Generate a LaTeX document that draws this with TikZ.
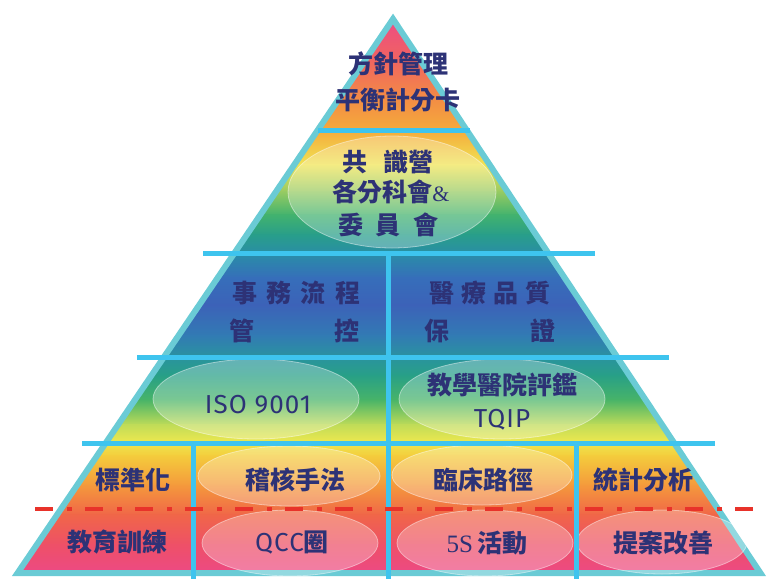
\documentclass[tikz,border=0pt]{standalone}
\usepackage{fontspec}
\newfontfamily\cjk{Noto Sans CJK TC}
\newfontfamily\latin{Fira Sans}[LetterSpace=4]
\newfontfamily\serifl{Liberation Serif}

\begin{document}
\begin{tikzpicture}[x=1pt,y=-1pt,
  sep/.style={draw=sepblue,line width=5pt},
  bubble/.style={fill=white,fill opacity=0.28,draw=white,draw opacity=0.45,line width=0.8pt},
  lbl/.style={text=navy,font=\cjk\bfseries\fontsize{25}{30}\selectfont,inner sep=0pt},
  ltn/.style={text=navy,font=\latin\fontsize{26}{30}\selectfont,inner sep=0pt}]

\definecolor{navy}{RGB}{45,50,118}
\definecolor{sepblue}{RGB}{62,196,238}
\definecolor{edgeteal}{RGB}{106,203,213}
\definecolor{dashred}{RGB}{232,50,42}
% colour stops of the pyramid, top to bottom
\definecolor{c0}{RGB}{236,72,138}
\definecolor{c1}{RGB}{240,100,96}
\definecolor{c2}{RGB}{243,142,68}
\definecolor{c3}{RGB}{245,170,60}
\definecolor{c4}{RGB}{240,228,84}
\definecolor{c5}{RGB}{150,202,98}
\definecolor{c6}{RGB}{66,178,110}
\definecolor{c7}{RGB}{40,158,138}
\definecolor{c8}{RGB}{42,140,168}
\definecolor{c9}{RGB}{54,110,186}
\definecolor{c10}{RGB}{60,98,184}
\definecolor{c11}{RGB}{50,122,180}
\definecolor{c12}{RGB}{42,146,160}
\definecolor{c13}{RGB}{40,160,134}
\definecolor{c14}{RGB}{72,180,104}
\definecolor{c15}{RGB}{192,220,88}
\definecolor{c16}{RGB}{238,232,78}
\definecolor{c17}{RGB}{244,204,60}
\definecolor{c18}{RGB}{244,152,60}
\definecolor{c19}{RGB}{240,102,72}
\definecolor{c20}{RGB}{238,80,104}
\definecolor{c21}{RGB}{236,72,138}

\useasboundingbox (0,0) rectangle (767,579);

% gradient fill
\begin{scope}
\clip (393,19) -- (760.4,573) -- (17.6,573) -- cycle;
\foreach \ya/\ca/\yb/\cb in {13/c0/60/c1, 60/c1/100/c2, 100/c2/130/c3, 130/c3/165/c4,
  165/c4/192/c5, 192/c5/215/c6, 215/c6/235/c7, 235/c7/255/c8, 255/c8/278/c9,
  278/c9/305/c10, 305/c10/335/c11, 335/c11/356/c12, 356/c12/376/c13, 376/c13/400/c14,
  400/c14/425/c15, 425/c15/442/c16, 442/c16/456/c17, 456/c17/486/c18, 486/c18/515/c19,
  515/c19/545/c20, 545/c20/579/c21}
  \shade[top color=\ca,bottom color=\cb] (0,\ya-0.5) rectangle (767,\yb+0.5);
\end{scope}

\draw[draw=edgeteal,line width=6pt,line join=miter] (393,19) -- (760.4,573) -- (17.6,573) -- cycle;

% bubbles
\path[bubble] (392,192) ellipse [x radius=104, y radius=56];
\path[bubble] (256,399) ellipse [x radius=103, y radius=40];
\path[bubble] (502,399) ellipse [x radius=103, y radius=40];
\path[bubble] (289,476) ellipse [x radius=91, y radius=30];
\path[bubble] (290,543) ellipse [x radius=88, y radius=33];
\path[bubble] (482,475) ellipse [x radius=90, y radius=30];
\path[bubble] (485,543) ellipse [x radius=88, y radius=33];
\path[bubble] (662,542) ellipse [x radius=85, y radius=32];

% separators
\draw[sep] (318,130) -- (470,130);
\draw[sep] (203,253) -- (595,253);
\draw[sep] (137,357) -- (669,357);
\draw[sep] (82,443) -- (715,443);
\draw[sep] (388,253) -- (388,579);
\draw[sep] (193,443) -- (193,579);
\draw[sep] (576,443) -- (576,579);

\draw[dashred,line width=4pt,dash pattern=on 18pt off 14pt on 5pt off 13pt] (35,509) -- (760,509);

% labels
\node[lbl] (fz1) at (398,64) {方針管理};
\node[lbl] (fz2) at (398,100) {平衡計分卡};
\node[lbl] (gs1) at (388,162) {共\hspace{0.65em}識營};
\node[lbl] (gs2) at (391,192) {各分科會{\serifl\mdseries\fontsize{22}{26}\selectfont\&}};
\node[lbl] (gs3) at (388,225) {\makebox[100pt][s]{委\hfil 員\hfil 會}};

\node[lbl] (sw1) at (296,293) {\makebox[128pt][s]{事\hfil 務\hfil 流\hfil 程}};
\node[lbl] (sw2) at (294,331) {\makebox[130pt][s]{管\hfil 控}};
\node[lbl] (yl1) at (490,293) {\makebox[121pt][s]{醫\hfil 療\hfil 品\hfil 質}};
\node[lbl] (yl2) at (490,331) {\makebox[131pt][s]{保\hfil 證}};

\node[ltn] (iso) at (258,405) {ISO 9001};
\node[lbl] (tq1) at (502,385) {教學醫院評鑑};
\node[ltn] (tq2) at (502,420) {TQIP};

\node[lbl] (bzh) at (133,480) {標準化};
\node[lbl] (jhs) at (295,480) {稽核手法};
\node[lbl] (lcl) at (483,480) {臨床路徑};
\node[lbl] (tjf) at (643,480) {統計分析};
\node[lbl] (jyx) at (117,542) {教育訓練};
\node[lbl] (qcc) at (292,543) {{\latin\mdseries\fontsize{26}{30}\selectfont QCC}圈};
\node[lbl] (fives) at (487,543) {{\serifl\mdseries 5S}\,活動};
\node[lbl] (tagw) at (663,543) {提案改善};
\end{tikzpicture}
\end{document}
